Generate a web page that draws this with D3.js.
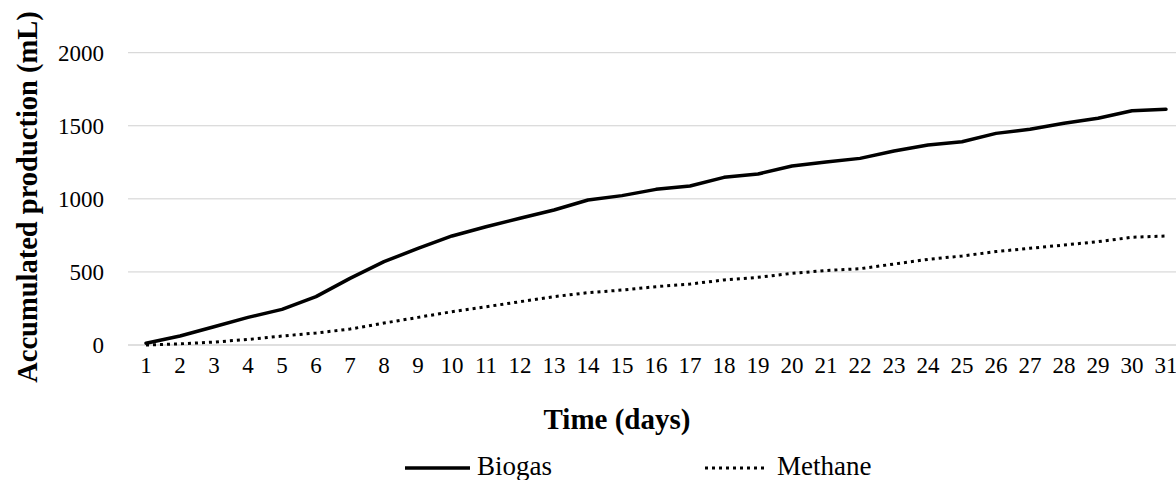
<!DOCTYPE html>
<html>
<head>
<meta charset="utf-8">
<script src="https://cdn.jsdelivr.net/npm/d3@7"></script>
<style>
  html, body { margin: 0; padding: 0; background: #fff; }
  svg { display: block; }
</style>
</head>
<body>
<svg id="chart" width="1176" height="480"></svg>
<script>
const days = d3.range(1, 32).map(String);
const biogas = [12, 62, 125, 189, 244, 331, 456, 570, 661, 746, 809, 867, 924, 992, 1022, 1065, 1088, 1147, 1170, 1225, 1252, 1277, 1327, 1368, 1391, 1448, 1476, 1517, 1551, 1603, 1613];
const methane = [0, 8, 20, 38, 61, 82, 109, 150, 189, 228, 262, 296, 331, 358, 376, 399, 417, 445, 463, 490, 510, 522, 554, 586, 609, 639, 662, 684, 707, 737, 746];
const yTicks = [0, 500, 1000, 1500, 2000];
const seriesNames = ["Biogas", "Methane"];
const xTitle = "Time (days)";
const yTitle = "Accumulated production (mL)";

const FONT = "'Liberation Serif', 'Times New Roman', serif";
const svg = d3.select("#chart");
const left = 129, bw = 34;
const x = d3.scaleBand().domain(days).range([left, left + days.length * bw]).padding(0);
const y = d3.scaleLinear().domain([0, 2000]).range([345, 52.7]);
const cx = d => x(d) + x.bandwidth() / 2;

// gridlines
svg.append("g").selectAll("line").data(yTicks.filter(t => t > 0)).join("line")
  .attr("x1", left - 1).attr("x2", left + days.length * bw)
  .attr("y1", d => y(d)).attr("y2", d => y(d))
  .attr("stroke", "#d0d0d0").attr("stroke-width", 1);

// x axis baseline
svg.append("line").attr("x1", left - 1).attr("x2", left + days.length * bw)
  .attr("y1", y(0)).attr("y2", y(0)).attr("stroke", "#bfbfbf").attr("stroke-width", 1);

// y tick labels
const yAxis = d3.axisLeft(y).tickValues(yTicks).tickSize(0).tickPadding(0).tickFormat(d3.format("d"));
const gy = svg.append("g").attr("transform", "translate(104,0)").call(yAxis);
gy.select(".domain").remove();
gy.selectAll("text").style("font-family", FONT).attr("font-size", 23).attr("dy", "0.33em").attr("fill", "#000");

// x tick labels
const xAxis = d3.axisBottom(x).tickSize(0).tickPadding(0);
const gx = svg.append("g").attr("transform", "translate(0,345)").call(xAxis);
gx.select(".domain").remove();
gx.selectAll("text").style("font-family", FONT).attr("font-size", 23).attr("dy", null).attr("y", 28).attr("fill", "#000");

// lines
const lineB = d3.line().x((d, i) => cx(days[i])).y(d => y(d));
svg.append("path").datum(biogas).attr("d", lineB)
  .attr("fill", "none").attr("stroke", "#000").attr("stroke-width", 3.5)
  .attr("stroke-linejoin", "round").attr("stroke-linecap", "round");
svg.append("path").datum(methane).attr("d", lineB)
  .attr("fill", "none").attr("stroke", "#000").attr("stroke-width", 3)
  .attr("stroke-dasharray", "3,4");

// axis titles
svg.append("text").attr("x", 617).attr("y", 429).attr("text-anchor", "middle")
  .style("font-family", FONT).attr("font-size", 29).attr("font-weight", "bold").text(xTitle);
svg.append("text").attr("transform", "translate(37,197) rotate(-90)").attr("text-anchor", "middle")
  .style("font-family", FONT).attr("font-size", 28.5).attr("font-weight", "bold").text(yTitle);

// legend
const legend = [
  {name: seriesNames[0], x1: 405, x2: 470, tx: 477, dash: null, w: 3.5},
  {name: seriesNames[1], x1: 705, x2: 767, tx: 777, dash: "3,4", w: 3}
];
const lg = svg.append("g").selectAll("g").data(legend).join("g");
lg.append("line").attr("x1", d => d.x1).attr("x2", d => d.x2).attr("y1", 468).attr("y2", 468)
  .attr("stroke", "#000").attr("stroke-width", d => d.w).attr("stroke-dasharray", d => d.dash);
lg.append("text").attr("x", d => d.tx).attr("y", 475).style("font-family", FONT)
  .attr("font-size", 27).text(d => d.name);
</script>
</body>
</html>
